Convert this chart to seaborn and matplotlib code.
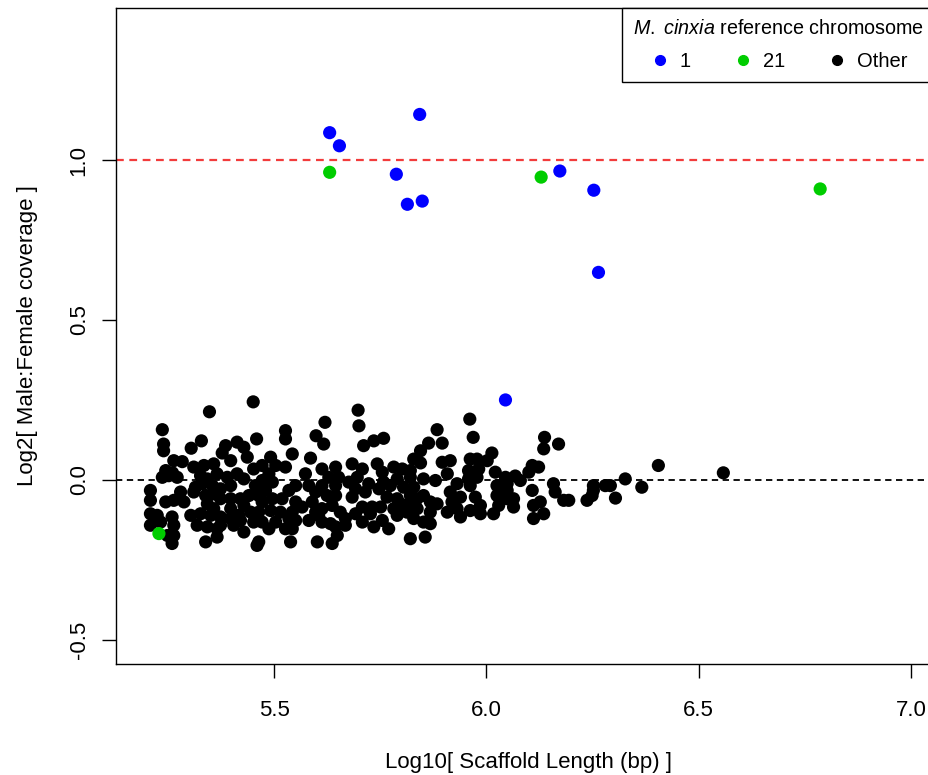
import matplotlib
matplotlib.use('Agg')
import matplotlib.pyplot as plt
import seaborn as sns
import pandas as pd
from matplotlib.lines import Line2D

sns.set_style('ticks')
plt.rcParams['font.family'] = ['Liberation Sans', 'DejaVu Sans']
plt.rcParams['mathtext.fontset'] = 'custom'
plt.rcParams['mathtext.rm'] = 'Liberation Sans'
plt.rcParams['mathtext.it'] = 'Liberation Sans:italic'
for key in ['text.color', 'axes.labelcolor', 'xtick.color', 'ytick.color', 'axes.edgecolor']:
    plt.rcParams[key] = 'black'

# (log10 scaffold length, log2 male:female coverage)
other_a = [
    (5.451, 0.244), (5.348, 0.213), (5.237, 0.157), (5.329, 0.122), (5.240, 0.112),
    (5.240, 0.091), (5.305, 0.099), (5.413, 0.118), (5.429, 0.102), (5.386, 0.107),
    (5.378, 0.084), (5.459, 0.128), (5.264, 0.060), (5.284, 0.057), (5.437, 0.071),
    (5.398, 0.060), (5.311, 0.040), (5.335, 0.045), (5.358, 0.050), (5.245, 0.029),
    (5.237, 0.008), (5.252, 0.013), (5.272, 0.008), (5.327, 0.013), (5.343, 0.003),
    (5.331, -0.012), (5.366, 0.019), (5.390, 0.008), (5.398, -0.018), (5.374, -0.028),
    (5.355, -0.018), (5.413, 0.019), (5.429, 0.003), (5.452, 0.034), (5.456, -0.018),
    (5.209, -0.033), (5.209, -0.064), (5.280, -0.038), (5.288, -0.069), (5.264, -0.064),
    (5.245, -0.069), (5.311, -0.038), (5.315, -0.023), (5.374, -0.059), (5.339, -0.049),
    (5.358, -0.044), (5.398, -0.059), (5.421, -0.059), (5.441, -0.049), (5.429, -0.080),
    (5.398, -0.090), (5.417, -0.111), (5.343, -0.075), (5.358, -0.090), (5.209, -0.106),
    (5.225, -0.111), (5.233, -0.132), (5.260, -0.116), (5.264, -0.142), (5.304, -0.111),
    (5.327, -0.106), (5.351, -0.111), (5.374, -0.116), (5.374, -0.142), (5.366, -0.153),
    (5.398, -0.121), (5.421, -0.127), (5.405, -0.142), (5.445, -0.101), (5.452, -0.132),
    (5.429, -0.163), (5.460, -0.205), (5.319, -0.142), (5.209, -0.142), (5.249, -0.174),
    (5.264, -0.174), (5.260, -0.199), (5.339, -0.194), (5.366, -0.179),
]
other_b = [
    (5.698, 0.218), (5.700, 0.169), (5.620, 0.180), (5.527, 0.154), (5.527, 0.128),
    (5.599, 0.138), (5.617, 0.112), (5.711, 0.107), (5.735, 0.122), (5.758, 0.130),
    (5.543, 0.081), (5.586, 0.068), (5.492, 0.071), (5.472, 0.045), (5.504, 0.045),
    (5.527, 0.040), (5.574, 0.019), (5.613, 0.034), (5.645, 0.040), (5.629, 0.008),
    (5.684, 0.050), (5.708, 0.034), (5.696, 0.008), (5.743, 0.050), (5.755, 0.024),
    (5.472, -0.002), (5.496, -0.007), (5.480, -0.033), (5.464, -0.049), (5.551, -0.018),
    (5.535, -0.033), (5.582, -0.018), (5.598, -0.038), (5.613, -0.018), (5.645, -0.018),
    (5.645, -0.049), (5.625, -0.049), (5.676, -0.007), (5.692, -0.028), (5.684, -0.054),
    (5.723, -0.012), (5.715, -0.038), (5.747, -0.028), (5.758, -0.007), (5.472, -0.069),
    (5.496, -0.059), (5.464, -0.101), (5.492, -0.096), (5.519, -0.059), (5.515, -0.101),
    (5.551, -0.069), (5.543, -0.101), (5.566, -0.085), (5.590, -0.069), (5.598, -0.101),
    (5.613, -0.090), (5.637, -0.080), (5.656, -0.101), (5.692, -0.106), (5.708, -0.085),
    (5.731, -0.085), (5.751, -0.085), (5.472, -0.132), (5.504, -0.132), (5.488, -0.153),
    (5.535, -0.121), (5.527, -0.153), (5.551, -0.127), (5.582, -0.127), (5.613, -0.132),
    (5.633, -0.137), (5.645, -0.147), (5.668, -0.142), (5.708, -0.132), (5.735, -0.147),
    (5.755, -0.127), (5.464, -0.194), (5.539, -0.194), (5.602, -0.194), (5.637, -0.199),
    (5.649, -0.174),
]
other_c = [
    (5.961, 0.190), (5.884, 0.157), (5.969, 0.133), (5.864, 0.115), (5.896, 0.115),
    (5.845, 0.091), (6.013, 0.084), (5.829, 0.065), (5.845, 0.053), (5.896, 0.055),
    (5.915, 0.060), (5.962, 0.065), (5.978, 0.065), (6.002, 0.060), (5.782, 0.040),
    (5.802, 0.034), (5.908, 0.019), (5.958, 0.029), (5.982, 0.034), (5.978, 0.008),
    (5.958, 0.003), (6.021, 0.024), (6.045, 0.008), (5.790, 0.003), (5.821, 0.008),
    (5.852, 0.003), (5.880, -0.002), (5.774, -0.018), (5.805, -0.023), (5.829, -0.023),
    (5.931, -0.012), (5.962, -0.018), (6.025, -0.018), (6.049, -0.012), (5.766, -0.054),
    (5.790, -0.059), (5.821, -0.049), (5.852, -0.049), (5.868, -0.069), (5.915, -0.038),
    (5.939, -0.054), (5.919, -0.069), (5.974, -0.054), (5.986, -0.080), (6.025, -0.049),
    (6.049, -0.059), (6.029, -0.080), (5.782, -0.090), (5.813, -0.080), (5.837, -0.090),
    (5.868, -0.101), (5.908, -0.101), (5.931, -0.090), (5.962, -0.096), (5.986, -0.106),
    (6.017, -0.106), (5.790, -0.111), (5.829, -0.121), (5.852, -0.132), (5.868, -0.137),
    (5.939, -0.116), (5.770, -0.153), (5.821, -0.184), (5.856, -0.179),
]
other_d = [
    (6.137, 0.133), (6.135, 0.097), (6.170, 0.112), (6.108, 0.045), (6.123, 0.040),
    (6.100, 0.024), (6.068, 0.012), (6.080, -0.002), (6.049, -0.033), (6.064, -0.059),
    (6.064, -0.085), (6.108, -0.033), (6.111, -0.080), (6.127, -0.069), (6.111, -0.121),
    (6.135, -0.106), (6.158, -0.012), (6.162, -0.038), (6.182, -0.064), (6.194, -0.064),
    (6.237, -0.064), (6.249, -0.049), (6.252, -0.018), (6.252, -0.033), (6.280, -0.018),
    (6.292, -0.018), (6.304, -0.057), (6.327, 0.003), (6.366, -0.023), (6.405, 0.045),
    (6.558, 0.022),
]
# extra readings from the densest part of the cloud
other_e = [
    (5.488, 0.019), (5.652, 0.008), (5.605, -0.111), (5.668, -0.121), (5.543, -0.153),
    (5.343, -0.147), (5.261, 0.022), (5.821, 0.029), (5.884, -0.075), (5.837, -0.059),
    (5.798, -0.075), (5.813, -0.101), (5.727, -0.106),
]
chr1 = [
    (5.631, 1.086), (5.654, 1.045), (5.843, 1.143), (5.788, 0.956), (5.814, 0.862),
    (5.849, 0.872), (6.173, 0.966), (6.253, 0.906), (6.264, 0.649), (6.045, 0.250),
]
chr21 = [(5.631, 0.962), (6.129, 0.947), (6.786, 0.910), (5.229, -0.168)]

groups = ['1', '21', 'Other']
colors = {'1': '#0000ff', '21': '#00cd00', 'Other': '#000000'}


def to_frame(points, label):
    d = pd.DataFrame(points, columns=['log_len', 'log_ratio'])
    d['chrom'] = label
    return d


others = other_a + other_b + other_c + other_d + other_e
df = pd.concat([to_frame(others, 'Other'), to_frame(chr1, '1'), to_frame(chr21, '21')],
               ignore_index=True)

fig = plt.figure(figsize=(9.29, 7.75), dpi=100)
# axes run a little past the right edge, as in the cropped original
ax = fig.add_axes([0.1249, 0.1432, 0.8887, 0.8465])

ax.axhline(1.0, color='#f23c3c', lw=1.6, ls=(0, (3.5, 2.5)), zorder=1)
ax.axhline(0.0, color='black', lw=1.3, ls=(0, (3.5, 2.5)), zorder=1)

sns.scatterplot(data=df, x='log_len', y='log_ratio', hue='chrom', palette=colors,
                s=90, linewidth=0, legend=False, ax=ax, zorder=2)

ax.set_xlim(5.128, 7.072)
ax.set_ylim(-0.576, 1.476)
ax.set_xticks([5.5, 6.0, 6.5, 7.0])
ax.set_yticks([-0.5, 0.0, 0.5, 1.0])
ax.set_xticklabels(['5.5', '6.0', '6.5', '7.0'])
ax.set_yticklabels(['-0.5', '0.0', '0.5', '1.0'], rotation=90, va='center')
ax.tick_params(axis='both', length=10, width=1, color='black', labelsize=16)
ax.tick_params(axis='x', pad=16)
ax.tick_params(axis='y', pad=9)
for sp in ax.spines.values():
    sp.set_color('black')
    sp.set_linewidth(1)

ax.set_xlabel('Log10[ Scaffold Length (bp) ]', fontsize=16)
ax.set_ylabel('Log2[ Male:Female coverage ]', fontsize=16)
ax.xaxis.set_label_coords(0.5, -0.1335)
ax.yaxis.set_label_coords(-0.095, 0.5)

# legend box ends just past the cropped right edge so the title stays visible
title = r'$\mathit{M.\ cinxia}$ reference chromosome'
handles = [Line2D([], [], ls='', marker='o', ms=7, color=colors[g]) for g in groups]
leg = ax.legend(handles, groups, title=title,
                ncol=3, loc='upper right', bbox_to_anchor=(0.992, 1), borderaxespad=0,
                fancybox=False, edgecolor='black', framealpha=1, fontsize=14.5,
                title_fontsize=14.2, handlelength=1, handletextpad=0.5,
                columnspacing=2.06, borderpad=0.55, labelspacing=0.68)
leg.get_frame().set_linewidth(1)

fig.savefig('out.png', dpi=100)
